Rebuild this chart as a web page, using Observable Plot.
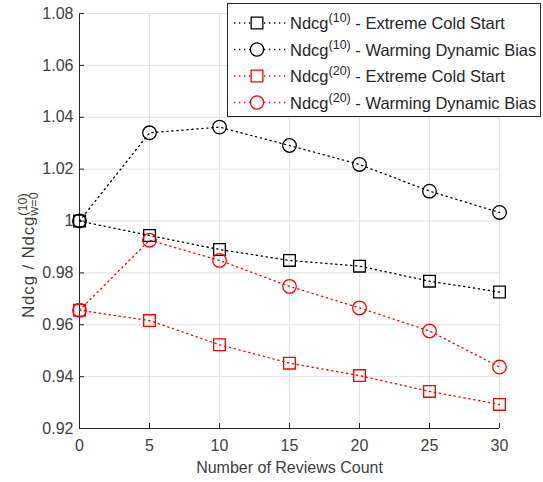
<!DOCTYPE html>
<html>
<head>
<meta charset="utf-8">
<script src="https://cdn.jsdelivr.net/npm/d3@7"></script>
<script src="https://cdn.jsdelivr.net/npm/@observablehq/plot@0.6"></script>
<style>
  html, body { margin: 0; padding: 0; background: #fff; }
  #chart { width: 543px; height: 482px; }
</style>
</head>
<body>
<div id="chart"></div>
<script>
// ---- data ----
const reviewCounts = [0, 5, 10, 15, 20, 25, 30];
const ndcg10ColdStart = [1.000, 0.9944, 0.9890, 0.9848, 0.9826, 0.9768, 0.9726];
const ndcg10Warming   = [1.000, 1.0340, 1.0362, 1.0291, 1.0218, 1.0115, 1.0033];
const ndcg20ColdStart = [0.9656, 0.9616, 0.9523, 0.9452, 0.9404, 0.9343, 0.9293];
const ndcg20Warming   = [0.9656, 0.9926, 0.9848, 0.9748, 0.9665, 0.9576, 0.9437];
const seriesKeys = ["ecs10", "wdb10", "ecs20", "wdb20"];
const seriesSup = ["(10)", "(10)", "(20)", "(20)"];
const seriesSuffix = [" - Extreme Cold Start", " - Warming Dynamic Bias", " - Extreme Cold Start", " - Warming Dynamic Bias"];
const xTicks = [0, 5, 10, 15, 20, 25, 30];
const yTicks = [0.92, 0.94, 0.96, 0.98, 1.00, 1.02, 1.04, 1.06, 1.08];
const xLabel = "Number of Reviews Count";

// ---- styles ----
const seriesColor = ["#000000", "#000000", "#ff0000", "#ff0000"];
const seriesSymbol = ["square", "circle", "square", "circle"];
const axisColor = "#262626";
const textColor = "#404040";
const gridColor = "#e1e1e1";
const font = "'Liberation Sans', Arial, Helvetica, sans-serif";
const dash = "1.3,3.7";

const values = [ndcg10ColdStart, ndcg10Warming, ndcg20ColdStart, ndcg20Warming];
const rows = [];
seriesKeys.forEach((k, i) => reviewCounts.forEach((x, j) => rows.push({series: k, x, y: values[i][j]})));

const W = 543, H = 482;
const yFmt = d3.format(".2~f");

const marks = [
  Plot.gridX(xTicks, {stroke: gridColor, strokeOpacity: 1}),
  Plot.gridY(yTicks, {stroke: gridColor, strokeOpacity: 1}),
  Plot.ruleX(xTicks, {y1: yTicks[0], y2: yTicks[0], insetTop: -5, stroke: axisColor}),
  Plot.ruleY(yTicks, {x1: xTicks[0], x2: xTicks[0], insetRight: -5, stroke: axisColor}),
  Plot.ruleX([xTicks[0]], {stroke: axisColor}),
  Plot.ruleY([yTicks[0]], {stroke: axisColor}),
  Plot.axisX(xTicks, {tickSize: 0, tickPadding: 11, fontSize: 16, fill: textColor, label: null}),
  Plot.axisY(yTicks, {tickSize: 0, tickPadding: 6, fontSize: 16, fill: textColor, label: null, tickFormat: yFmt}),
  Plot.text([xLabel], {frameAnchor: "bottom", dy: 44, fontSize: 16, fill: textColor, text: d => d})
];
seriesKeys.forEach((k, i) => {
  const data = rows.filter(r => r.series === k);
  marks.push(Plot.line(data, {x: "x", y: "y", stroke: seriesColor[i], strokeWidth: 1.3, strokeDasharray: dash}));
  marks.push(Plot.dot(data, {x: "x", y: "y", stroke: seriesColor[i], strokeWidth: 1.3, fill: "none", symbol: seriesSymbol[i], r: seriesSymbol[i] === "square" ? 6.6 : 6.8}));
});

const chart = Plot.plot({
  width: W, height: H,
  marginLeft: 79, marginRight: 44, marginTop: 13, marginBottom: 54,
  style: {fontFamily: font, background: "#fff", overflow: "visible"},
  x: {domain: [xTicks[0], xTicks[xTicks.length - 1]]},
  y: {domain: [yTicks[0], yTicks[yTicks.length - 1]]},
  marks
});
document.getElementById("chart").appendChild(chart);

// ---- y axis label with super/subscript ----
const svg = d3.select(chart);
const yl = svg.append("text")
  .attr("transform", "translate(34,318) rotate(-90)")
  .attr("font-family", font).attr("font-size", 17).attr("fill", textColor)
  .attr("text-anchor", "start");
yl.append("tspan").text("Ndcg / Ndcg").attr("letter-spacing", 0.8);
const sup = yl.append("tspan").text("(10)").attr("font-size", 12.5).attr("dy", -7);
const supW = sup.node().getComputedTextLength();
yl.append("tspan").text("w=0").attr("font-size", 12.5).attr("dx", -supW).attr("dy", 11);

// ---- legend ----
const lg = svg.append("g").attr("text-anchor", "start");
lg.append("rect").attr("x", 227.5).attr("y", 3.5).attr("width", 313).attr("height", 113)
  .attr("fill", "#fff").attr("stroke", axisColor).attr("stroke-width", 1);
seriesKeys.forEach((k, i) => {
  const cy = 23 + i * 26.5;
  lg.append("line").attr("x1", 234).attr("x2", 288).attr("y1", cy).attr("y2", cy)
    .attr("stroke", seriesColor[i]).attr("stroke-width", 1.3).attr("stroke-dasharray", dash);
  const sym = d3.symbol(seriesSymbol[i] === "square" ? d3.symbolSquare : d3.symbolCircle, Math.PI * 6.6 * 6.6);
  lg.append("path").attr("d", sym()).attr("transform", `translate(257,${cy})`)
    .attr("fill", "#fff").attr("stroke", seriesColor[i]).attr("stroke-width", 1.3);
  const t = lg.append("text").attr("x", 290).attr("y", cy + 6).attr("text-anchor", "start")
    .attr("font-family", font).attr("font-size", 16.5).attr("fill", "#262626");
  t.append("tspan").text("Ndcg");
  t.append("tspan").text(seriesSup[i]).attr("font-size", 12.5).attr("dy", -7);
  t.append("tspan").text(seriesSuffix[i]).attr("dy", 7);
});
</script>
</body>
</html>
